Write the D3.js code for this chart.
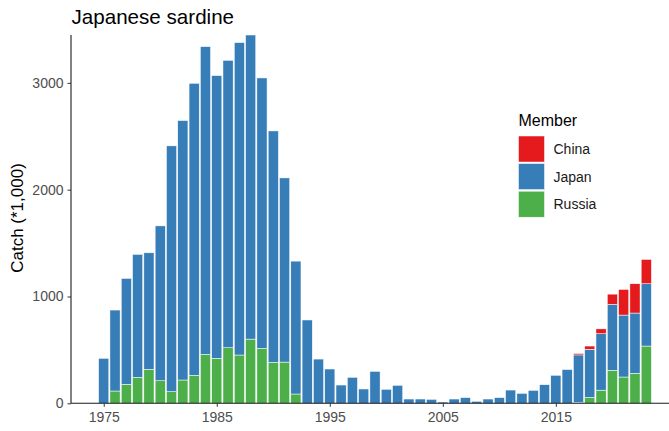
<!DOCTYPE html>
<html>
<head>
<meta charset="utf-8">
<script src="https://cdn.jsdelivr.net/npm/d3@7"></script>
<style>
  html, body { margin: 0; padding: 0; background: #ffffff; }
  svg { display: block; font-family: "Liberation Sans", Arial, sans-serif; }
</style>
</head>
<body>
<svg id="chart" width="669" height="431"></svg>
<script>
const years = d3.range(1975, 2024);
const russia = [0, 115, 178, 243, 318, 211, 109, 218, 262, 458,
  421, 520, 452, 601, 514, 383, 386, 87, 0, 0,
  0, 0, 0, 0, 0, 0, 0, 0, 0, 0,
  0, 0, 0, 0, 0, 0, 0, 0, 0, 0,
  0, 0, 9, 55, 123, 309, 246, 281, 536];
const japan = [421, 758, 991, 1151, 1091, 1450, 2301, 2429, 2734, 2881,
  2647, 2691, 2925, 2847, 2532, 2167, 1724, 1244, 780, 414,
  321, 171, 243, 134, 299, 131, 168, 40, 40, 37,
  12, 40, 53, 19, 40, 53, 124, 93, 121, 174,
  262, 316, 444, 451, 528, 617, 580, 564, 583];
const china = [0, 0, 0, 0, 0, 0, 0, 0, 0, 0,
  0, 0, 0, 0, 0, 0, 0, 0, 0, 0,
  0, 0, 0, 0, 0, 0, 0, 0, 0, 0,
  0, 0, 0, 0, 0, 0, 0, 0, 0, 0,
  0, 0, 13, 30, 46, 96, 240, 274, 228];
const members = ["China", "Japan", "Russia"];
const colors = ["#E41A1C", "#377EB8", "#4DAF4A"];
const yTicks = [0, 1000, 2000, 3000];
const xTicks = [1975, 1985, 1995, 2005, 2015];
const titleText = "Japanese sardine";
const yTitle = "Catch (*1,000)";
const legendTitle = "Member";

(function () {
const svg = d3.select("#chart");
const pL = 71, pR = 679, pT = 35, pB = 403.3;

const rows = years.map((yr, i) => ({ year: yr, Russia: russia[i], Japan: japan[i], China: china[i] }));
const stackOrder = ["Russia", "Japan", "China"];
const series = d3.stack().keys(stackOrder)(rows);
const colorOf = d3.scaleOrdinal().domain(members).range(colors);

const x = d3.scaleLinear().domain([1974.55 - 2.445, 2023.45 + 2.445]).range([pL, pR]);
const yMax = d3.max(rows, d => d.Russia + d.Japan + d.China);
const y = d3.scaleLinear().domain([0, yMax]).range([pB, pT]);
const bw = (x(1) - x(0)) * 0.9;

const g = svg.append("g");
series.forEach(s => {
  g.append("g").selectAll("rect").data(s.filter(d => d[1] > d[0])).join("rect")
    .attr("x", d => x(d.data.year) - bw / 2)
    .attr("width", bw)
    .attr("y", d => y(d[1]))
    .attr("height", d => y(d[0]) - y(d[1]))
    .attr("fill", colorOf(s.key))
    .attr("stroke", "#ffffff")
    .attr("stroke-width", 0.5);
});

const yAxis = d3.axisLeft(y).tickValues(yTicks).tickFormat(d3.format("d")).tickSize(3.5).tickPadding(4);
const ya = svg.append("g").attr("transform", `translate(${pL},0)`).call(yAxis);
const xAxis = d3.axisBottom(x).tickValues(xTicks).tickFormat(d3.format("d")).tickSize(3.5).tickPadding(5);
const xa = svg.append("g").attr("transform", `translate(0,${pB})`).call(xAxis);
[ya, xa].forEach(a => {
  a.select(".domain").attr("stroke", "#1a1a1a").attr("stroke-width", 1.1);
  a.selectAll(".tick line").attr("stroke", "#333333").attr("stroke-width", 1);
  a.selectAll(".tick text").attr("fill", "#4D4D4D").style("font-size", "14px")
    .style("font-family", "'Liberation Sans', Arial, sans-serif");
});
ya.select(".domain").attr("d", `M0,${pB}V${pT}`);
xa.select(".domain").attr("d", `M${pL},0H${pR}`);

svg.append("text").attr("x", 71.5).attr("y", 23.5).text(titleText)
  .style("font-size", "20.6px").attr("fill", "#000");

svg.append("text").attr("transform", "translate(23,218) rotate(-90)")
  .attr("text-anchor", "middle").text(yTitle)
  .style("font-size", "17px").attr("fill", "#000");

const lg = svg.append("g").attr("transform", "translate(518.5,0)");
lg.append("text").attr("x", 0).attr("y", 125.5).text(legendTitle)
  .style("font-size", "16px").attr("fill", "#000");
members.forEach((m, i) => {
  const ky = 136 + i * 27.6;
  lg.append("rect").attr("x", 0).attr("y", ky).attr("width", 26).attr("height", 26)
    .attr("fill", colorOf(m)).attr("stroke", "#ffffff").attr("stroke-width", 0.5);
  lg.append("text").attr("x", 35).attr("y", ky + 13).attr("dy", "0.35em").text(m)
    .style("font-size", "14px").attr("fill", "#1a1a1a");
});
})();
</script>
</body>
</html>
